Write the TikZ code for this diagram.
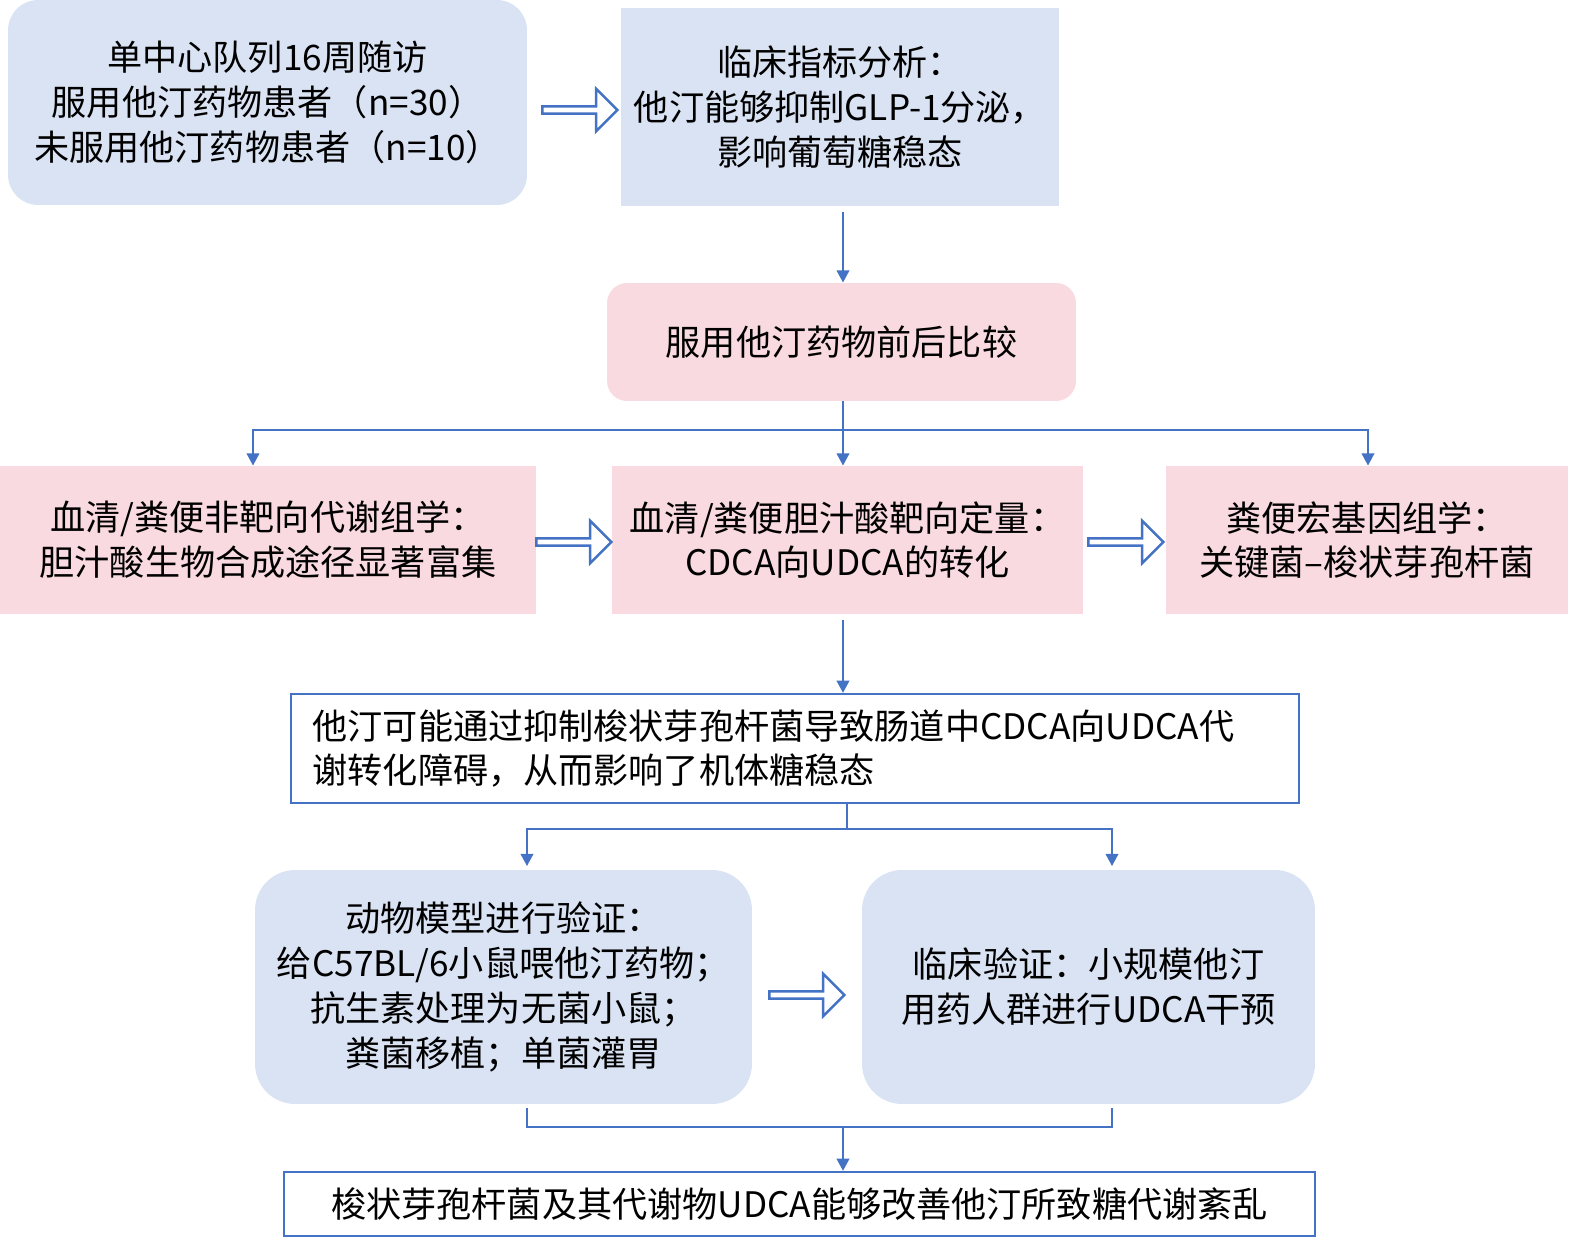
\documentclass[tikz,border=0pt]{standalone}
\usepackage{fontspec}
\setmainfont{Noto Sans CJK SC}
\usetikzlibrary{shapes.arrows,arrows.meta}
\definecolor{lineblue}{HTML}{4472C4}
\definecolor{boxblue}{HTML}{DAE3F3}
\definecolor{boxpink}{HTML}{F9DAE0}

\begin{document}
\begin{tikzpicture}[x=0.02cm,y=-0.02cm,every node/.style={font=\fontsize{20}{25.5}\selectfont,align=center,inner sep=2pt}]
  \tikzstyle{blue box}=[fill=boxblue]
  \tikzstyle{pink box}=[fill=boxpink]
  \tikzstyle{white box}=[draw=lineblue, line width=1.2pt, fill=white]
  \tikzstyle{edge}=[-{Triangle[length=7pt,width=7pt]}, lineblue, line width=1.6pt]
  \tikzstyle{hollow}=[single arrow, draw=lineblue, line width=1.4pt, fill=white, minimum width=0.85cm, single arrow head extend=0.12cm, minimum height=1.5cm, inner sep=0pt]
  \useasboundingbox (0,0) rectangle (1570,1240);
  % first row
  \node[blue box, rounded corners=0.6cm, minimum width=10.38cm, minimum height=4.1cm] (cohort) at (267.5,102.5) {单中心队列16周随访\\服用他汀药物患者（n=30）\\未服用他汀药物患者（n=10）};
  \node[blue box, minimum width=8.76cm, minimum height=3.96cm] (clinic) at (840,107) {临床指标分析：\\他汀能够抑制GLP-1分泌，\\影响葡萄糖稳态};
  \node[hollow] (h1) at (578,110) {};
  \node[pink box, rounded corners=0.4cm, minimum width=9.38cm, minimum height=2.36cm] (compare) at (841.5,342) {服用他汀药物前后比较};
  % omics row
  \node[pink box, minimum width=10.72cm, minimum height=2.96cm] (untarget) at (268,540) {血清/粪便非靶向代谢组学：\\胆汁酸生物合成途径显著富集};
  \node[pink box, minimum width=9.42cm, minimum height=2.96cm] (target) at (847.5,540) {血清/粪便胆汁酸靶向定量：\\CDCA向UDCA的转化};
  \node[pink box, minimum width=8.04cm, minimum height=2.96cm] (metagen) at (1367,540) {粪便宏基因组学：\\关键菌--梭状芽孢杆菌};
  \node[hollow] (h2) at (572,542) {};
  \node[hollow] (h3) at (1124,542) {};
  \node[white box, minimum width=20.16cm, minimum height=2.18cm, align=left, text width=19.3cm] (hypo) at (795,748.5) {他汀可能通过抑制梭状芽孢杆菌导致肠道中CDCA向UDCA代\\谢转化障碍，从而影响了机体糖稳态};
  % validation row
  \node[blue box, rounded corners=0.8cm, minimum width=9.94cm, minimum height=4.68cm] (animal) at (503.5,987) {动物模型进行验证：\\给C57BL/6小鼠喂他汀药物；\\抗生素处理为无菌小鼠；\\粪菌移植；单菌灌胃};
  \node[blue box, rounded corners=0.8cm, minimum width=9.06cm, minimum height=4.68cm] (trial) at (1088.5,987) {临床验证：小规模他汀\\用药人群进行UDCA干预};
  \node[hollow] (h4) at (805,995) {};
  \node[white box, minimum width=20.62cm, minimum height=1.28cm] (concl) at (799.5,1204) {梭状芽孢杆菌及其代谢物UDCA能够改善他汀所致糖代谢紊乱};
  % connectors
  \coordinate (split1) at (843,430);
  \coordinate (split2) at (847,829);
  \coordinate (merge) at (843,1127);
  \draw[edge] (clinic.south -| 843,0) ++(0,6) -- (compare.north -| 843,0);
  \draw[lineblue, line width=1.6pt] (compare.south -| split1) -- (split1);
  \draw[edge] (split1) -- (target.north -| split1);
  \draw[edge] (split1) -| (untarget.north -| 253,0);
  \draw[edge] (split1) -| (metagen.north -| 1368,0);
  \draw[edge] (target.south -| 843,0) ++(0,6) -- (hypo.north -| 843,0);
  \draw[lineblue, line width=1.6pt] (hypo.south -| split2) -- (split2);
  \draw[edge] (split2) -| ([yshift=2pt]animal.north -| 527,0);
  \draw[edge] (split2) -| ([yshift=2pt]trial.north -| 1112,0);
  \draw[lineblue, line width=1.6pt] ([yshift=-2pt]animal.south -| 527,0) |- (merge) -| ([yshift=-2pt]trial.south -| 1112,0);
  \draw[edge] (merge) -- (concl.north -| merge);
\end{tikzpicture}
\end{document}
